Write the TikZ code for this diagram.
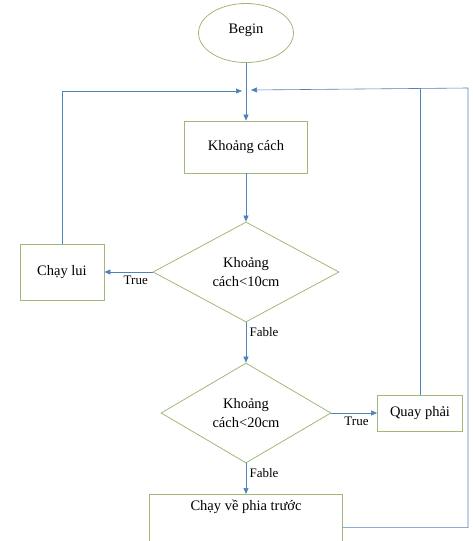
\documentclass[tikz,border=0pt]{standalone}
\usepackage{fontspec}
\setmainfont{Liberation Serif}
\usetikzlibrary{shapes.geometric, positioning, arrows.meta}
\definecolor{vienhop}{RGB}{160,185,120}
\definecolor{duongxanh}{RGB}{79,129,189}
\begin{document}
\begin{tikzpicture}[x=1pt, y=-1pt,
        batdau/.style={ellipse, draw=vienhop, thick, minimum width=95pt, minimum height=59pt, text depth=9pt, font=\fontsize{14.5}{17}\selectfont},
        xuly/.style={rectangle, draw=vienhop, thick, align=center, font=\fontsize{14.5}{17}\selectfont},
        dieukien/.style={diamond, draw=vienhop, thick, aspect=2, inner sep=0pt, align=center, font=\fontsize{14.5}{19}\selectfont},
        nhan/.style={font=\fontsize{13}{15}\selectfont},
        tuyen/.style={draw=duongxanh, semithick},
        muiten/.style={tuyen, -{Triangle[length=6pt, width=5pt]}}
    ]
        \useasboundingbox (0,0) rectangle (473,541);

        % Bat dau
        \node[batdau] (batdau) at (246,33) {Begin};

        % Do khoang cach
        \node[xuly, minimum width=123pt, minimum height=52pt] (khoangcach) at (246,147) {Khoảng cách};

        % Dieu kien 1
        \node[dieukien, minimum width=186pt, minimum height=100pt] (dk1) at (246,272) {Khoảng\\cách<10cm};

        % Chay lui (ben trai)
        \node[xuly, minimum width=84pt, minimum height=56pt] (chaylui) at (62,272) {Chạy lui};

        % Dieu kien 2
        \node[dieukien, minimum width=170pt, minimum height=100pt] (dk2) at (246,413) {Khoảng\\cách<20cm};

        % Quay phai (ben phai)
        \node[xuly, minimum width=85pt, minimum height=36pt] (quayphai) at (420,413) {Quay phải};

        % Chay ve phia truoc (bi cat o mep duoi)
        \node[xuly, minimum width=193pt, inner ysep=6pt, text depth=44pt, anchor=north] (chayve) at (246,494) {Chạy về phia trước};

        % Diem noi tren cung
        \coordinate (noitrai) at (242,91);
        \coordinate (noiphai) at (251,90);
        \coordinate (goc) at (468,88);

        % ================= DUONG NOI =================
        \draw[muiten] (batdau.south) -- (khoangcach.north);
        \draw[muiten] (khoangcach.south) -- (dk1.north);

        % Nhanh True 1
        \draw[muiten] (dk1.west) -- node[nhan, pos=0.35, below] {True} (chaylui.east);
        \draw[muiten] (chaylui.north) |- (noitrai);

        % Nhanh Fable 1
        \draw[muiten] (dk1.south) -- node[nhan, pos=0.25, right] {Fable} (dk2.north);

        % Nhanh True 2
        \draw[muiten] (dk2.east) -- node[nhan, pos=0.55, below] {True} (quayphai.west);
        \draw[tuyen] (quayphai.north) -- (quayphai.north |- goc);

        % Nhanh Fable 2
        \draw[muiten] (dk2.south) -- node[nhan, pos=0.3, right] {Fable} (chayve.north);

        % Vong lap chinh
        \draw[muiten] (chayve.east) -| (goc) -- (noiphai);

    \end{tikzpicture}
\end{document}
